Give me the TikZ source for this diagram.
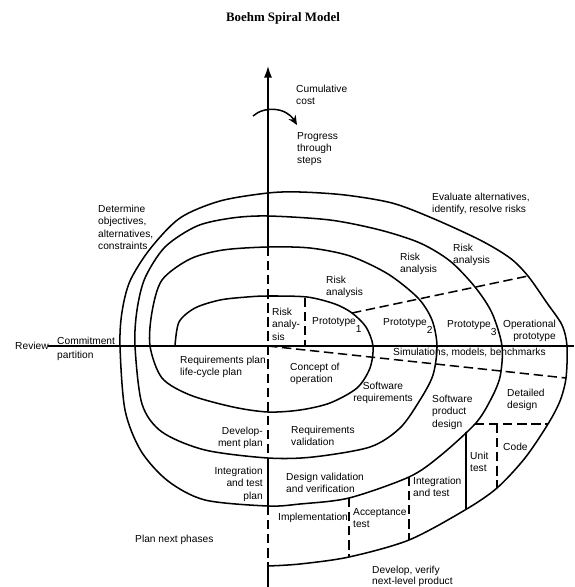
\documentclass[tikz,border=0pt]{standalone}
\usepackage{fontspec}
\setmainfont{Liberation Sans}
\newfontfamily\titlefont{Liberation Serif}
\usetikzlibrary{arrows.meta}

\begin{document}
\begin{tikzpicture}[x=0.03cm,y=-0.03cm]
      \tikzstyle{lbl}=[inner sep=0pt,anchor=north west,align=left,font=\fontsize{8.7}{10.5}\selectfont]
      \tikzstyle{lblr}=[lbl,anchor=north east,align=right]
      \tikzstyle{curve}=[line width=1.3pt,line join=round]
      \tikzstyle{sep}=[curve,dash pattern=on 8pt off 4pt]
      \useasboundingbox (0,0) rectangle (574,587);
      \node[inner sep=0pt,font=\titlefont\fontsize{11}{13}\selectfont\bfseries] (title) at (283,18) {Boehm Spiral Model};
      % axes
      \coordinate (top) at (268,66);
      \coordinate (bot) at (268,587);
      \coordinate (lft) at (48,346);
      \coordinate (rgt) at (574,346);
      \draw[curve,-{Latex[length=10pt,width=7pt]}] (268,247) -- (top);
      \draw[sep] (268,247) -- (268,458);
      \draw[curve] (268,458) -- (268,506);
      \draw[sep] (268,506) -- (268,566);
      \draw[curve] (268,566) -- (bot);
      \draw[curve] (lft) -- (rgt);
      \coordinate (cs) at (253,116);
      \coordinate (ce) at (297,125);
      \draw[curve,-{Stealth[length=8pt,width=7pt]}] (cs) .. controls (264,106) and (286,107) .. (ce);
      % the spiral
      \draw[curve] plot[smooth] coordinates {(175,346) (179,322) (195,308) (220,300) (247,297) (268,296) (307,297) (335,304) (352,313) (366,327) (373,346)
        (370,368) (357,388) (330,403) (300,410) (268,412) (233,407) (190,395) (162,378) (150,346)
        (152,312) (162,280) (190,259) (223,250) (268,247) (310,248) (350,256) (388,274) (418,298) (432,320) (437,346)
        (433,375) (420,400) (400,428) (370,447) (313,457) (268,458) (205,450) (162,432) (142,404) (135,346)
        (137,310) (145,278) (165,247) (197,226) (232,218) (268,216) (330,220) (380,230) (420,243) (450,261) (475,287) (492,313) (502,346)
        (500,377) (490,401) (475,424) (440,456) (409,477) (349,498) (300,504) (268,506) (205,500) (168,481) (141,451) (125,410) (120,346)
        (122,312) (130,281) (150,249) (180,218) (220,201) (268,193) (300,192) (345,195) (392,203) (432,218) (480,240) (510,258) (528,276) (547,303) (562,325) (567,346)
        (566,378) (560,401) (548,424) (525,458) (497,488) (465,510) (409,540) (349,557) (300,564) (268,566)};
      % separators
      \coordinate (ra0) at (352,313);
      \coordinate (ra3) at (528,276);
      \coordinate (p1a) at (305,298);
      \coordinate (p1b) at (305,346);
      \coordinate (sm0) at (268,346);
      \coordinate (sm4) at (566,378);
      \coordinate (dd0) at (475,424);
      \coordinate (dd1) at (548,424);
      \coordinate (cd1) at (497,488);
      \coordinate (ut0) at (466,432);
      \coordinate (ut1) at (466,509);
      \coordinate (it0) at (409,477);
      \coordinate (it1) at (409,540);
      \coordinate (at0) at (349,498);
      \coordinate (at1) at (349,557);
      \draw[sep] (ra0) -- (ra3);
      \draw[sep] (p1a) -- (p1b);
      \draw[sep] (sm0) -- (sm4);
      \draw[sep] (dd0) -- (dd1);
      \draw[sep] (497,424) -- (cd1);
      \draw[curve] (ut0) -- (ut1);
      \draw[sep] (it0) -- (it1);
      \draw[sep] (at0) -- (at1);
      % labels
      \node[lbl,anchor=west] (review) at (15,346) {Review};
      \node[lbl] (commit) at (57,337) {Commitment};
      \node[lbl] (partit) at (57,351) {partition};
      \node[lbl] (cumcost) at (296,85) {Cumulative\\cost};
      \node[lbl] (progress) at (297,132) {Progress\\through\\steps};
      \node[lbl] (determine) at (98,205) {Determine\\objectives,\\alternatives,\\constraints};
      \node[lbl] (evaluate) at (432,193) {Evaluate alternatives,\\identify, resolve risks};
      \node[lbl] (risk3) at (453,244) {Risk\\analysis};
      \node[lbl] (risk2) at (400,253) {Risk\\analysis};
      \node[lbl] (risk1) at (326,276) {Risk\\analysis};
      \node[lbl] (risk0) at (272,308) {Risk\\analy-\\sis};
      \node[lbl] (proto1) at (312,317) {Prototype\raisebox{-7pt}{1}};
      \node[lbl] (proto2) at (383,318) {Prototype\raisebox{-7pt}{2}};
      \node[lbl] (proto3) at (447,320) {Prototype\raisebox{-7pt}{3}};
      \node[lblr] (opproto) at (556,320) {Operational\\prototype};
      \node[lbl] (simul) at (393,348) {Simulations, models, benchmarks};
      \node[lbl] (reqplan) at (180,356) {Requirements plan\\life-cycle plan};
      \node[lbl] (concept) at (290,363) {Concept of\\operation};
      \node[lbl,anchor=north,align=center] (softreq) at (383,382) {Software\\requirements};
      \node[lbl] (prodesign) at (432,395) {Software\\product\\design};
      \node[lbl] (detdesign) at (507,389) {Detailed\\design};
      \node[lbl] (code) at (503,443) {Code};
      \node[lbl] (unittest) at (470,452) {Unit\\test};
      \node[lbl] (integ) at (413,477) {Integration\\and test};
      \node[lbl] (accept) at (353,508) {Acceptance\\test};
      \node[lbl] (implem) at (278,513) {Implementation};
      \node[lbl] (desval) at (286,473) {Design validation\\and verification};
      \node[lbl] (reqval) at (291,426) {Requirements\\validation};
      \node[lblr] (devplan) at (263,427) {Develop-\\ment plan};
      \node[lblr] (intplan) at (263,467) {Integration\\and test\\plan};
      \node[lbl] (nextph) at (135,535) {Plan next phases};
      \node[lbl,font=\fontsize{8.7}{9.6}\selectfont] (develop) at (372,566) {Develop, verify\\next-level product};
\end{tikzpicture}
\end{document}
